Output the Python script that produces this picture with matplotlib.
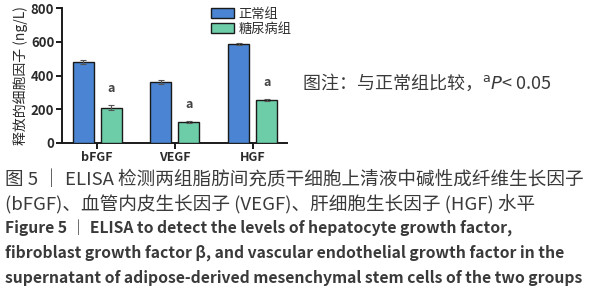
import matplotlib
matplotlib.use("Agg")
import matplotlib.pyplot as plt
import numpy as np

CJK = ["Noto Sans CJK SC", "DejaVu Sans"]
plt.rcParams["font.family"] = CJK

factors = ["bFGF", "VEGF", "HGF"]
normal = [480, 360, 585]
normal_err = [14, 12, 6]
diabetic = [210, 125, 255]
diabetic_err = [16, 8, 8]
groups = ["正常组", "糖尿病组"]
y_ticks = [0, 200, 400, 600, 800]

BLUE = "#4a84d2"; GREEN = "#6dcda8"; INK = "#2b2b2b"; CAP = "#3a3a3a"

fig = plt.figure(figsize=(6.02, 3.0), dpi=100)
ax = fig.add_axes([62 / 602, 1 - 143 / 300, 225 / 602, 135 / 300])

x = np.arange(len(factors))
w, off = 0.27, 0.18
ax.bar(x - off, normal, w, yerr=normal_err, color=BLUE, edgecolor="#1a1a1a",
       linewidth=1.0, capsize=2.5, error_kw=dict(elinewidth=0.8, capthick=0.8, ecolor="#555"),
       label=groups[0], zorder=3)
ax.bar(x + off, diabetic, w, yerr=diabetic_err, color=GREEN, edgecolor="#1a1a1a",
       linewidth=1.0, capsize=2.5, error_kw=dict(elinewidth=0.8, capthick=0.8, ecolor="#555"),
       label=groups[1], zorder=3)
for xi, v, e in zip(x, diabetic, diabetic_err):
    ax.text(xi + off, v + e + 95, "a", ha="center", va="center", fontsize=9,
            fontweight="bold", color="#444")

ax.set_xlim(-0.45, 2.44)
ax.set_ylim(0, 800)
ax.set_yticks(y_ticks)
ax.set_xticks(x)
ax.set_xticklabels(factors)
for s in ["top", "right"]:
    ax.spines[s].set_visible(False)
for s in ["left", "bottom"]:
    ax.spines[s].set_linewidth(1.4)
    ax.spines[s].set_color("#1a1a1a")
ax.tick_params(axis="both", length=4, width=1.4, color="#1a1a1a", labelsize=9,
               labelcolor=INK, pad=1.5)
ax.tick_params(axis="y", labelsize=9.5)
for lab in ax.get_yticklabels() + ax.get_xticklabels():
    lab.set_fontweight("bold")
ax.set_ylabel("释放的细胞因子 (ng/L)", fontsize=10, color=INK, labelpad=2)

ax.legend(loc="upper left", bbox_to_anchor=(204 / 602, 1 - 1 / 300),
          bbox_transform=fig.transFigure, frameon=False, fontsize=9.5,
          handlelength=1.8, handleheight=0.7, borderpad=0, handletextpad=0.3,
          labelspacing=0.15, labelcolor=INK)

fig.text(302 / 602, 1 - 82 / 300, "图注：与正常组比较，$^{\\mathrm{a}}$$\\it{P}$< 0.05",
         fontsize=13, color=CAP, va="center")

cap_cn = ["图 5 ｜ ELISA 检测两组脂肪间充质干细胞上清液中碱性成纤维生长因子",
          "(bFGF)、血管内皮生长因子 (VEGF)、肝细胞生长因子 (HGF) 水平"]
cap_en = ["Figure 5 ｜ ELISA to detect the levels of hepatocyte growth factor,",
          "fibroblast growth factor β, and vascular endothelial growth factor in the",
          "supernatant of adipose-derived mesenchymal stem cells of the two groups"]
for i, t in enumerate(cap_cn):
    fig.text(5 / 602, 1 - (180 + 24 * i) / 300, t, fontsize=13.4, color=CAP, va="center")
for i, t in enumerate(cap_en):
    fig.text(5 / 602, 1 - (228 + 25 * i) / 300, t, fontsize=11.3, color=CAP,
             fontweight="bold", va="center")

fig.savefig("out.png", dpi=100)
